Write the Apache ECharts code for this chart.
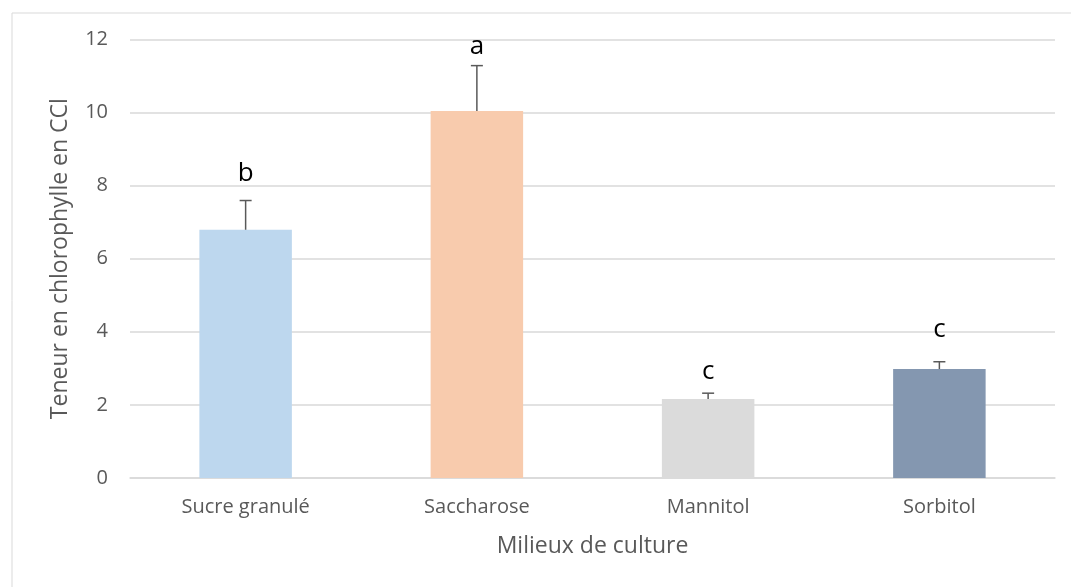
<!DOCTYPE html>
<html>
<head>
<meta charset="utf-8">
<script src="https://cdn.jsdelivr.net/npm/echarts@6/dist/echarts.min.js"></script>
<style>
html,body{margin:0;padding:0;background:#fff;}
#chart{width:1071px;height:587px;}
</style>
</head>
<body>
<div id="chart"></div>
<script>
const categories = ["Sucre granulé", "Saccharose", "Mannitol", "Sorbitol"];
const means = [6.79, 10.04, 2.16, 2.98];
const errors = [0.80, 1.24, 0.16, 0.20];
const letters = ["b", "a", "c", "c"];
const letterPos = [8.34, 11.8, 2.91, 4.05];
const barColors = ["#BDD7EE", "#F8CBAD", "#DBDBDB", "#8497B0"];
const yTicks = [0, 2, 4, 6, 8, 10, 12];
const xTitle = "Milieux de culture";
const yTitle = "Teneur en chlorophylle en CCl";

const FONT = "'Open Sans'";
const chart = echarts.init(document.getElementById('chart'), null, {renderer: 'canvas'});
const option = {
  animation: false,
  backgroundColor: '#fff',
  graphic: [{
    type: 'rect', left: 9.5, top: 10.5, silent: true,
    shape: {width: 1100, height: 700},
    style: {fill: 'none', stroke: '#d9d9d9', lineWidth: 1}
  }],
  grid: {left: 130, right: 16, top: 39.3, bottom: 109},
  xAxis: {
    type: 'category', data: categories,
    name: xTitle, nameLocation: 'middle', nameGap: 57,
    nameTextStyle: {fontFamily: FONT, fontSize: 23, color: '#595959'},
    axisLine: {lineStyle: {color: '#d9d9d9', width: 1.5}},
    axisTick: {show: false},
    axisLabel: {fontFamily: FONT, fontSize: 20, color: '#595959', margin: 19}
  },
  yAxis: {
    type: 'value', min: yTicks[0], max: yTicks[yTicks.length - 1], interval: 2,
    name: yTitle, nameLocation: 'middle', nameGap: 58,
    nameTextStyle: {fontFamily: FONT, fontSize: 23, color: '#595959'},
    axisLine: {show: false}, axisTick: {show: false},
    splitLine: {lineStyle: {color: '#d9d9d9', width: 1.5}},
    axisLabel: {fontFamily: FONT, fontSize: 20, color: '#595959', margin: 22}
  },
  series: [
    {
      type: 'bar', barWidth: '40%',
      data: means.map((v, i) => ({value: v, itemStyle: {color: barColors[i]}}))
    },
    {
      type: 'custom', z: 5,
      data: means.map((v, i) => [i, v, v + errors[i]]),
      renderItem: function (params, api) {
        const x = api.value(0);
        const p0 = api.coord([x, api.value(1)]);
        const p1 = api.coord([x, api.value(2)]);
        const cw = 6;
        return {
          type: 'group',
          children: [
            {type: 'line', shape: {x1: p0[0], y1: p0[1], x2: p1[0], y2: p1[1]}, style: {stroke: '#595959', lineWidth: 1.5}},
            {type: 'line', shape: {x1: p1[0] - cw, y1: p1[1], x2: p1[0] + cw, y2: p1[1]}, style: {stroke: '#595959', lineWidth: 1.5}}
          ]
        };
      }
    },
    {
      type: 'custom', z: 6,
      data: letterPos.map((v, i) => [i, v]),
      renderItem: function (params, api) {
        const p = api.coord([api.value(0), api.value(1)]);
        return {
          type: 'text',
          style: {x: p[0], y: p[1], text: letters[params.dataIndex], fill: '#000', font: '26px ' + FONT, align: 'center', verticalAlign: 'middle'}
        };
      }
    }
  ]
};
chart.setOption(option);
</script>
</body>
</html>
